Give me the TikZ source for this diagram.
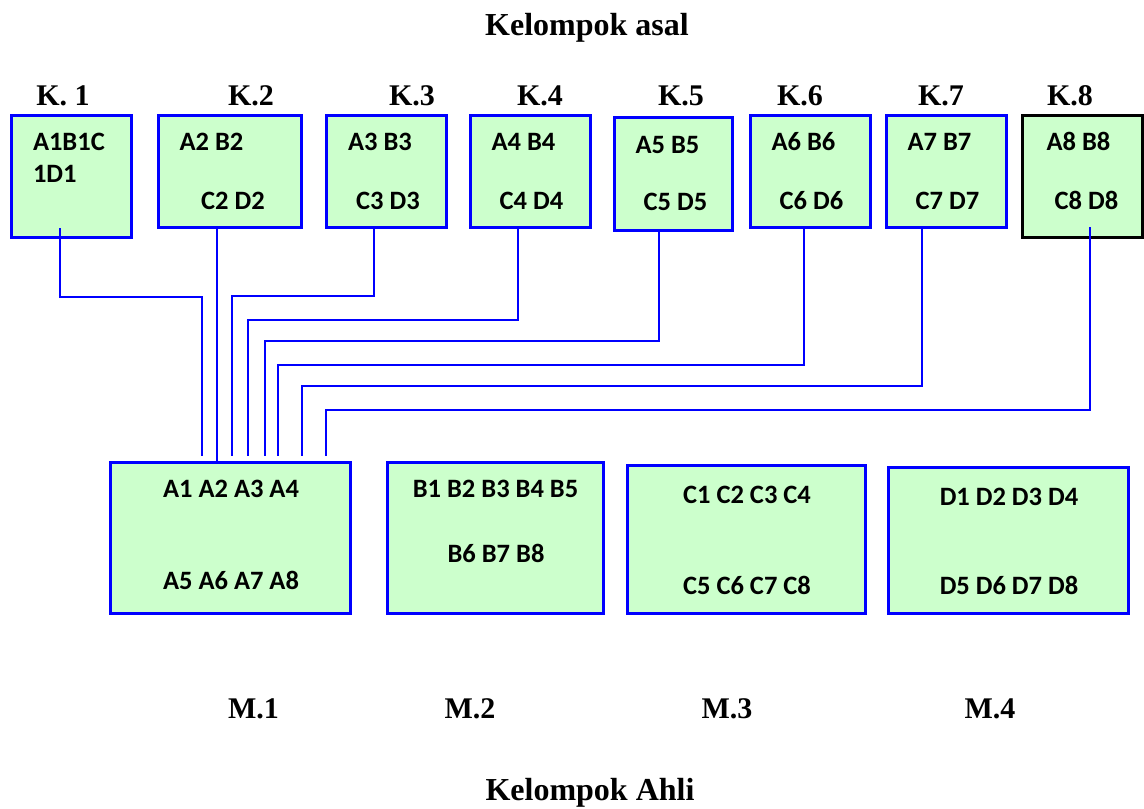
\documentclass[tikz,border=0pt]{standalone}
\usepackage{fontspec}
\usepackage{tikz}
\newfontfamily\headfont{Liberation Serif}
\newfontfamily\cellfont{Carlito}
\definecolor{cellgreen}{HTML}{CCFFCC}

\begin{document}
\begin{tikzpicture}[
    x=1pt, y=-1pt,
    every node/.style={inner sep=0pt, outer sep=0pt},
    kbox/.style={rectangle, draw=blue, fill=cellgreen, line width=3pt, minimum width=120pt, minimum height=112pt},
    mbox/.style={rectangle, draw=blue, fill=cellgreen, line width=3pt, minimum width=240pt, minimum height=151pt},
    cell/.style={font=\cellfont\bfseries\fontsize{26.5}{31}\selectfont, anchor=base},
    head/.style={font=\headfont\bfseries\fontsize{30}{36}\selectfont, anchor=base},
    title/.style={font=\headfont\bfseries\fontsize{32}{38}\selectfont, anchor=base},
    wire/.style={draw=blue, line width=2.8pt}
]
    \useasboundingbox (0,0) rectangle (1144,809);

    % titles
    \node[title] (asal) at (587,35) {Kelompok asal};
    \node[title] (ahli) at (590,800) {Kelompok Ahli};

    % home groups
    \node[head] (h1) at (63,105) {K. 1};
    \node[head] (h2) at (251,105) {K.2};
    \node[head] (h3) at (412,105) {K.3};
    \node[head] (h4) at (540,105) {K.4};
    \node[head] (h5) at (681,105) {K.5};
    \node[head] (h6) at (800,105) {K.6};
    \node[head] (h7) at (941,105) {K.7};
    \node[head] (h8) at (1070,105) {K.8};

    \node[kbox, minimum height=122pt] (k1) at (71,176) {};
    \node[kbox, minimum width=143pt] (k2) at (229.5,171) {};
    \node[kbox] (k3) at (386,171) {};
    \node[kbox] (k4) at (530,171) {};
    \node[kbox, minimum width=118pt, minimum height=113pt] (k5) at (673,173.5) {};
    \node[kbox] (k6) at (810,171) {};
    \node[kbox] (k7) at (946,171) {};
    \node[kbox, draw=black, minimum height=122pt] (k8) at (1082,176) {};

    \node[cell, anchor=base west] (k1a) at (33,150) {A1B1C};
    \node[cell, anchor=base west] (k1b) at (33,182) {1D1};
    \node[cell] (k2a) at (211.5,150) {A2 B2};
    \node[cell] (k2b) at (233,209) {C2 D2};
    \node[cell] (k3a) at (380,150) {A3 B3};
    \node[cell] (k3b) at (388,209) {C3 D3};
    \node[cell] (k4a) at (523.5,150) {A4 B4};
    \node[cell] (k4b) at (531.5,209) {C4 D4};
    \node[cell] (k5a) at (667.5,153) {A5 B5};
    \node[cell] (k5b) at (675.5,210) {C5 D5};
    \node[cell] (k6a) at (803.5,150) {A6 B6};
    \node[cell] (k6b) at (811.5,209) {C6 D6};
    \node[cell] (k7a) at (939.5,150) {A7 B7};
    \node[cell] (k7b) at (947.5,209) {C7 D7};
    \node[cell] (k8a) at (1078.5,150) {A8 B8};
    \node[cell] (k8b) at (1086.5,209) {C8 D8};

    % expert groups
    \node[mbox] (m1) at (230,537.5) {};
    \node[mbox, minimum width=216pt] (m2) at (495,537.5) {};
    \node[mbox, minimum width=238pt, minimum height=148pt] (m3) at (746,539) {};
    \node[mbox, minimum height=146pt] (m4) at (1008,540) {};

    \node[cell] (m1a) at (231,497) {A1 A2 A3 A4};
    \node[cell] (m1b) at (231,589) {A5 A6 A7 A8};
    \node[cell] (m2a) at (495.5,497) {B1 B2 B3 B4 B5};
    \node[cell] (m2b) at (496,562) {B6 B7 B8};
    \node[cell] (m3a) at (747,503) {C1 C2 C3 C4};
    \node[cell] (m3b) at (747,594) {C5 C6 C7 C8};
    \node[cell] (m4a) at (1009,505) {D1 D2 D3 D4};
    \node[cell] (m4b) at (1009,594) {D5 D6 D7 D8};

    \node[head] (e1) at (253.5,718) {M.1};
    \node[head] (e2) at (470,718) {M.2};
    \node[head] (e3) at (727,718) {M.3};
    \node[head] (e4) at (990,718) {M.4};

    % drop points above M.1
    \coordinate (d1) at (202,456);
    \coordinate (d3) at (232,456);
    \coordinate (d4) at (248,456);
    \coordinate (d5) at (265,456);
    \coordinate (d6) at (278,456);
    \coordinate (d7) at (302,456);
    \coordinate (d8) at (326,456);

    % connectors
    \draw[wire] ([xshift=-11pt,yshift=9pt]k1.south) -- ++(0,69) -| (d1);
    \draw[wire] ([xshift=-12.5pt]k2.south) -- ([xshift=-13pt]m1.north);
    \draw[wire] ([xshift=-12pt]k3.south) -- ++(0,69) -| (d3);
    \draw[wire] ([xshift=-12pt]k4.south) -- ++(0,93) -| (d4);
    \draw[wire] ([xshift=-14pt]k5.south) -- ++(0,111) -| (d5);
    \draw[wire] ([xshift=-6pt]k6.south) -- ++(0,138) -| (d6);
    \draw[wire] ([xshift=-24pt]k7.south) -- ++(0,159) -| (d7);
    \draw[wire] ([xshift=8pt,yshift=10pt]k8.south) -- ++(0,183) -| (d8);
\end{tikzpicture}
\end{document}
